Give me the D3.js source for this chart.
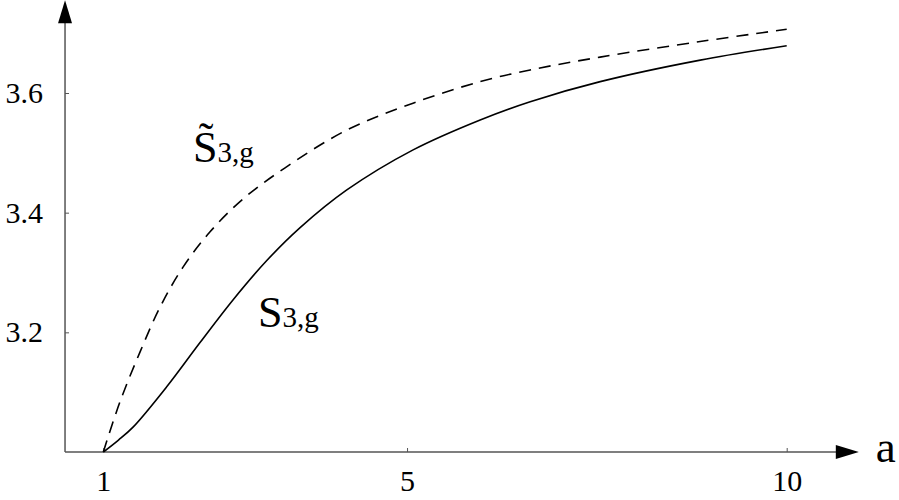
<!DOCTYPE html>
<html>
<head>
<meta charset="utf-8">
<script src="https://cdn.jsdelivr.net/npm/d3@7"></script>
<style>
  html, body { margin: 0; padding: 0; background: #fff; }
  svg { display: block; }
  text { font-family: "Liberation Serif", "Liberation Sans", Arial, sans-serif; fill: #000; }
</style>
</head>
<body>
<svg id="chart" width="899" height="500"></svg>
<script>
// ---- data ----
const xTicks = [1, 5, 10];
const yTicks = [3.2, 3.4, 3.6];
const yTickLabels = ["3.2", "3.4", "3.6"];

const aSolid = [1.0, 1.2, 1.395, 1.835, 2.274, 2.713, 3.153, 3.592, 4.207, 5.08, 5.963, 6.622, 7.544, 8.862, 10.0];
const sSolid = [3.0, 3.02, 3.042, 3.109, 3.183, 3.255, 3.320, 3.375, 3.438, 3.505, 3.555, 3.5855, 3.619, 3.655, 3.679];

const aDashed = [1.0, 1.22, 1.483, 1.747, 2.05, 2.406, 2.841, 3.394, 4.206, 5.079, 5.962, 6.621, 7.543, 8.86, 10.0];
const sDashed = [3.0, 3.084, 3.167, 3.242, 3.309, 3.368, 3.423, 3.475, 3.538, 3.583, 3.619, 3.6385, 3.660, 3.686, 3.7065];

// ---- scales ----
const x = d3.scaleLinear().domain([1, 10]).range([103.3, 786.7]);
const y = d3.scaleLinear().domain([3.0, 3.6]).range([452, 93]);

const svg = d3.select("#chart");
const axisColor = "#555";

const xMin = 0.496, xMax = 10.95, yMin = 3.0, yMax = 3.755;
const X0 = x(xMin), Y0 = y(yMin);

// axis lines
svg.append("line").attr("x1", X0).attr("y1", Y0).attr("x2", x(xMax) - 20).attr("y2", Y0)
  .attr("stroke", axisColor).attr("stroke-width", 1.5);
svg.append("line").attr("x1", X0).attr("y1", Y0).attr("x2", X0).attr("y2", y(yMax) + 20)
  .attr("stroke", axisColor).attr("stroke-width", 1.5);

// arrow heads
const xt = x(xMax), yt = y(yMax);
svg.append("path").attr("d", `M${xt},${Y0} L${xt - 23},${Y0 - 7} L${xt - 23},${Y0 + 7} Z`).attr("fill", "#000");
svg.append("path").attr("d", `M${X0},${yt} L${X0 - 7},${yt + 23} L${X0 + 7},${yt + 23} Z`).attr("fill", "#000");

// x axis ticks
const gx = svg.append("g").attr("transform", `translate(0,${Y0})`)
  .call(d3.axisBottom(x).tickValues(xTicks).tickFormat(d3.format("d")).tickSizeInner(-4).tickSizeOuter(0).tickPadding(18));
gx.attr("font-family", null).attr("font-size", null);
gx.select(".domain").remove();
gx.selectAll(".tick line").attr("stroke", axisColor);
gx.selectAll(".tick text").style("font-size", "30px").attr("fill", "#000");

// y axis ticks
const gy = svg.append("g").attr("transform", `translate(${X0},0)`)
  .call(d3.axisLeft(y).tickValues(yTicks).tickFormat((d, i) => yTickLabels[i]).tickSizeInner(-4).tickSizeOuter(0).tickPadding(22));
gy.attr("font-family", null).attr("font-size", null);
gy.select(".domain").remove();
gy.selectAll(".tick line").attr("stroke", axisColor);
gy.selectAll(".tick text").style("font-size", "30px").attr("fill", "#000");

// axis label
svg.append("text").attr("x", xt + 17).attr("y", 462).style("font-size", "45px").text("a");

// curves
const line = d3.line().x(d => x(d[0])).y(d => y(d[1])).curve(d3.curveCatmullRom.alpha(0.5));
svg.append("path").datum(aSolid.map((a, i) => [a, sSolid[i]]))
  .attr("d", line).attr("fill", "none").attr("stroke", "#000").attr("stroke-width", 1.6);
svg.append("path").datum(aDashed.map((a, i) => [a, sDashed[i]]))
  .attr("d", line).attr("fill", "none").attr("stroke", "#000").attr("stroke-width", 1.6)
  .attr("stroke-dasharray", "12,8");

// curve labels
const l1 = svg.append("text").attr("x", 258).attr("y", 327);
l1.append("tspan").style("font-size", "44px").text("S");
l1.append("tspan").style("font-size", "29px").text("3,g");

const l2 = svg.append("text").attr("x", 193).attr("y", 162);
l2.append("tspan").style("font-size", "44px").text("S\u0303");
l2.append("tspan").style("font-size", "29px").text("3,g");
</script>
</body>
</html>
